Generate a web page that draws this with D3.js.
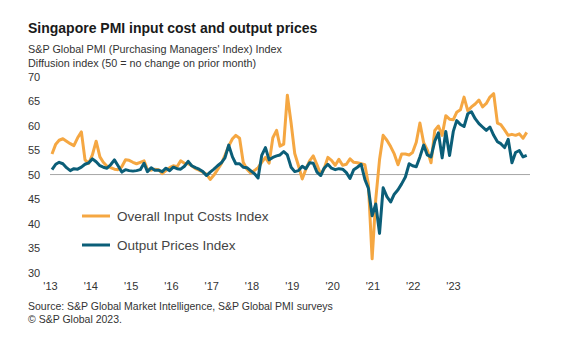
<!DOCTYPE html>
<html><head><meta charset="utf-8">
<script src="https://cdn.jsdelivr.net/npm/d3@7"></script>
<style>
body{margin:0;background:#fff}
svg text{font-family:Arial,"Liberation Sans",sans-serif}
</style>
</head><body>
<svg id="c" width="568" height="342"></svg>
<script>
// Monthly data, Jan 2013 - Oct 2023
const inputCosts = [
  54.2, 56.2, 57.0, 57.3, 56.8, 56.3, 55.9, 57.5, 58.7, 53.0, 52.3, 54.0,
  56.8, 53.6, 52.5, 51.7, 51.4, 51.1, 51.0, 51.6, 53.0, 52.9, 52.5, 52.2,
  52.5, 52.8, 51.0, 50.9, 51.1, 51.0, 50.2, 50.8, 51.4, 51.8, 51.6, 52.8,
  52.3, 52.2, 51.8, 51.2, 50.9, 50.5, 50.1, 49.0, 49.9, 51.0, 52.2, 53.9,
  55.8, 57.3, 58.0, 57.4, 52.5, 51.1, 50.3, 50.8, 51.4, 52.5, 53.5, 52.3,
  57.5, 59.0, 55.8, 56.2, 66.2, 60.5, 54.3, 51.8, 49.1, 51.1, 52.8, 53.8,
  52.0, 50.0, 51.2, 53.5, 52.9, 51.9, 53.1, 51.9, 52.1, 53.2, 52.5, 52.4,
  52.2, 52.0, 48.0, 32.8, 45.0, 53.0, 58.0, 57.0, 55.7, 54.2, 52.0, 54.2,
  54.2, 54.0, 54.5, 56.6, 60.5, 56.5, 55.0, 52.4, 59.0, 59.9, 58.0, 62.0,
  61.3, 61.2, 62.7, 63.2, 65.8, 63.0, 63.8, 64.4, 65.2, 63.8, 64.5, 65.8,
  66.5, 60.5, 60.2, 59.1, 58.0, 58.2, 58.0, 58.3, 57.4, 58.6
];
const outputPrices = [
  51.0, 52.1, 52.5, 52.2, 51.4, 50.8, 51.2, 51.1, 51.5, 52.1, 52.4, 53.2,
  52.6, 51.8, 51.5, 51.3, 52.0, 53.0, 51.8, 50.5, 51.0, 50.8, 50.7, 50.8,
  51.0, 52.3, 50.6, 51.4, 50.9, 50.9, 50.6, 51.3, 50.8, 51.5, 51.2, 51.1,
  51.7, 52.7, 51.8, 51.4, 51.1, 50.6, 49.8, 50.5, 51.1, 51.8, 52.4, 53.4,
  56.0, 53.6, 52.2, 52.2, 51.5, 51.4, 50.8, 50.2, 49.3, 53.9, 55.5, 53.0,
  53.5, 53.8, 54.0, 54.7, 54.0, 51.5, 50.6, 50.8, 51.7, 51.2, 52.4, 52.3,
  50.5, 49.8, 51.3, 52.1, 51.3, 51.0, 51.2, 51.1, 50.4, 49.2, 51.0, 51.5,
  52.1, 49.0, 47.2, 41.6, 44.0, 38.0, 47.3, 45.5, 44.4, 46.0, 46.9, 48.1,
  49.5, 52.2, 51.8, 51.6, 53.6, 56.0, 54.0, 53.6, 56.8, 58.5, 53.4, 58.8,
  53.9, 58.8, 61.0, 60.2, 59.8, 62.4, 62.8, 61.4, 60.4, 59.7, 59.0, 59.7,
  58.0, 56.7, 56.3, 55.5, 57.2, 52.4, 54.5, 54.9, 53.6, 53.9
];
const yearLabels = ["'13","'14","'15","'16","'17","'18","'19","'20","'21","'22","'23"];
const yTicks = [30, 35, 40, 45, 50, 55, 60, 65, 70];
const seriesNames = ["Overall Input Costs Index", "Output Prices Index"];
const colors = ["#F5A742", "#0B5E78"];

const months = d3.range(inputCosts.length).map(i => new Date(2013, i, 1));
const svg = d3.select("#c");

const x = d3.scaleTime().domain([months[0], months[months.length - 1]]).range([52, 526.7]);
const y = d3.scaleLinear().domain([30, 70]).range([272.6, 76.5]);
const xLab = d3.scalePoint().domain(yearLabels).range([50, 453]);

// titles
svg.append("text").attr("x", 28).attr("y", 33).attr("font-size", 14).attr("font-weight", "bold")
  .attr("fill", "#1a1a1a").text("Singapore PMI input cost and output prices");
svg.append("text").attr("x", 28).attr("y", 53).attr("font-size", 10.8).attr("fill", "#333")
  .text("S&P Global  PMI (Purchasing Managers' Index) Index");
svg.append("text").attr("x", 28).attr("y", 67).attr("font-size", 10.8).attr("fill", "#333")
  .text("Diffusion index  (50 = no change on prior month)");

// y axis labels
const yAxis = svg.append("g").attr("transform", "translate(28,0)")
  .call(d3.axisRight(y).tickValues(yTicks).tickSize(0).tickPadding(0));
yAxis.select(".domain").remove();
yAxis.selectAll("text").attr("font-size", 11).attr("fill", "#333").style("font-family", "Arial, 'Liberation Sans', sans-serif");

// x axis labels
const xAxis = svg.append("g").attr("transform", "translate(0,282)")
  .call(d3.axisBottom(xLab).tickSize(0).tickPadding(0));
xAxis.select(".domain").remove();
xAxis.selectAll("text").attr("font-size", 11).attr("fill", "#333").style("font-family", "Arial, 'Liberation Sans', sans-serif");

// 50 line
svg.append("line").attr("x1", 50).attr("x2", 530).attr("y1", y(50)).attr("y2", y(50))
  .attr("stroke", "#a6a6a6").attr("stroke-width", 1);

// lines
const line = d3.line().x((d, i) => x(months[i])).y(d => y(d));
[inputCosts, outputPrices].forEach((s, k) => {
  svg.append("path").datum(s).attr("d", line).attr("fill", "none")
    .attr("stroke", colors[k]).attr("stroke-width", 3).attr("stroke-linejoin", "round");
});

// legend
const legY = [216, 245];
seriesNames.forEach((n, k) => {
  svg.append("line").attr("x1", 82).attr("x2", 110).attr("y1", legY[k]).attr("y2", legY[k])
    .attr("stroke", colors[k]).attr("stroke-width", 3);
  svg.append("text").attr("x", 117).attr("y", legY[k]).attr("dy", "0.35em")
    .attr("font-size", 13.5).attr("fill", "#444").text(n);
});

// source
svg.append("text").attr("x", 28).attr("y", 310).attr("font-size", 10.5).attr("fill", "#333")
  .text("Source: S&P Global Market Intelligence, S&P Global PMI surveys");
svg.append("text").attr("x", 28).attr("y", 323).attr("font-size", 10.5).attr("fill", "#333")
  .text("© S&P Global 2023.");
</script>
</body></html>
